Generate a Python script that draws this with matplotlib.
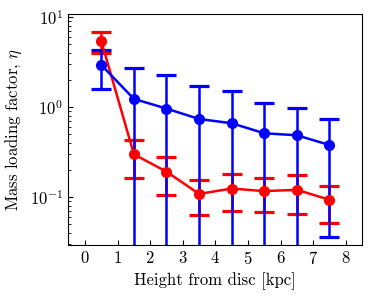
import numpy as np
import matplotlib
matplotlib.use("Agg")
import matplotlib.pyplot as plt

plt.rcParams['font.family'] = 'serif'
plt.rcParams['font.serif'] = ['cmr10']
plt.rcParams['mathtext.fontset'] = 'cm'
plt.rcParams['axes.formatter.use_mathtext'] = True
plt.rcParams['xtick.direction'] = 'in'
plt.rcParams['ytick.direction'] = 'in'

height = [0.5, 1.5, 2.5, 3.5, 4.5, 5.5, 6.5, 7.5]

# blue series: value, upper and lower bound
blue = [2.93, 1.23, 0.96, 0.735, 0.66, 0.51, 0.485, 0.378]
blue_hi = [4.3, 2.73, 2.27, 1.73, 1.52, 1.1, 0.967, 0.73]
blue_lo = [1.58, 0.0, 0.0, 0.0, 0.0, 0.0, 0.0, 0.0357]

# red series
red = [5.41, 0.298, 0.191, 0.108, 0.124, 0.116, 0.12, 0.093]
red_hi = [6.85, 0.43, 0.278, 0.153, 0.18, 0.164, 0.177, 0.134]
red_lo = [4.01, 0.162, 0.104, 0.063, 0.0699, 0.0677, 0.065, 0.0518]

fig = plt.figure(figsize=(3.74, 2.99), dpi=100)
ax = fig.add_axes([0.182, 0.181, 0.786, 0.772])

def bars(val, lo, hi, col):
    val = np.array(val)
    err = [val - np.array(lo), np.array(hi) - val]
    ax.errorbar(height, val, yerr=err, color=col, marker='o', ms=7,
                lw=1.8, elinewidth=1.8, capsize=7.5, capthick=2.3)

bars(red, red_lo, red_hi, 'red')
bars(blue, blue_lo, blue_hi, 'blue')

ax.set_yscale('log')
ax.set_ylim(0.0293, 10.8)
ax.set_xlim(-0.52, 8.5)
ax.set_xticks(range(9))
ax.set_xlabel('Height from disc [kpc]', fontsize=12)
ax.set_ylabel(r'Mass loading factor, $\eta$', fontsize=12)
ax.tick_params(labelsize=12)

fig.savefig('out.png', dpi=100)
